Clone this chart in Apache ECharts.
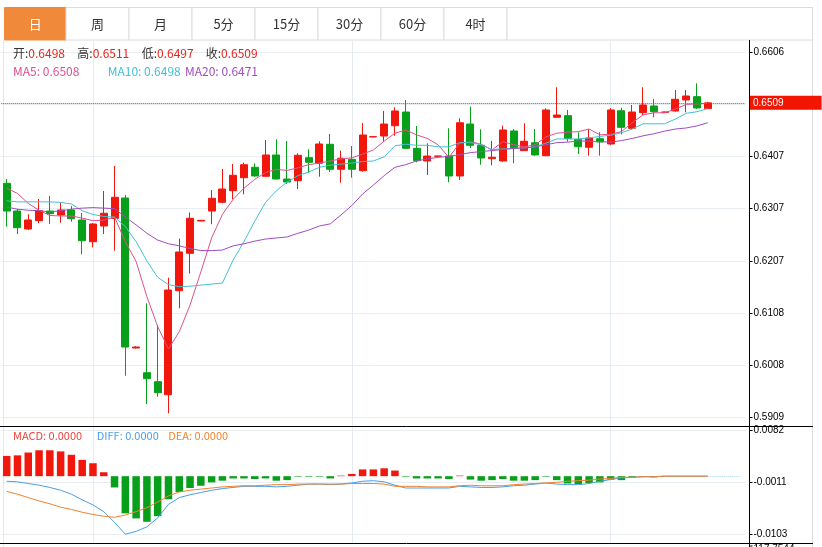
<!DOCTYPE html>
<html><head><meta charset="utf-8">
<script src="https://cdn.jsdelivr.net/npm/echarts@6/dist/echarts.min.js"></script>
<style>html,body{margin:0;padding:0;background:#fff;overflow:hidden}#c{width:822px;height:547px}</style>
</head><body><div id="c"></div>
<script>
// ---------- data ----------
const tabLabels = ['日','周','月','5分','15分','30分','60分','4时'];
const categories = ['1','2','3','4','5','6','7','8','9','10','11','12','13','14','15','16','17','18','19','20',
 '21','22','23','24','25','26','27','28','29','30','31','32','33','34','35','36','37','38','39','40',
 '41','42','43','44','45','46','47','48','49','50','51','52','53','54','55','56','57','58','59','60',
 '61','62','63','64','65','66'];
const emptySlots = [' ','  ','   '];
const opens = [0.63554,0.63025,0.62682,0.62840,0.63025,0.62949,0.63045,0.62854,0.62439,0.62739,
 0.62886,0.63274,0.60410,0.59938,0.59767,0.59518,0.61504,0.62218,0.62834,0.63025,
 0.63192,0.63413,0.63661,0.63860,0.63688,0.64095,0.63636,0.63604,0.64043,0.63936,
 0.64299,0.63822,0.64012,0.63795,0.64440,0.64457,0.64654,0.64915,0.64222,0.63980,
 0.64070,0.64075,0.63694,0.64686,0.64280,0.64024,0.63980,0.64553,0.64177,0.64329,
 0.64081,0.64814,0.64845,0.64394,0.64242,0.64406,0.64305,0.64940,0.64604,0.64902,
 0.65030,0.64910,0.64935,0.65145,0.65208,0.6498];
const closes = [0.63025,0.62707,0.62854,0.63031,0.62974,0.63045,0.62878,0.62458,0.62777,0.62982,
 0.63287,0.60429,0.60429,0.59824,0.59557,0.61517,0.62243,0.62886,0.62848,0.63268,
 0.63445,0.63707,0.63909,0.63694,0.64095,0.63636,0.63579,0.64089,0.63955,0.64305,
 0.63822,0.64032,0.63822,0.64476,0.64444,0.64686,0.64935,0.64222,0.63986,0.64075,
 0.64075,0.63694,0.64711,0.64280,0.64037,0.64051,0.64572,0.64234,0.64356,0.64095,
 0.64954,0.64858,0.64413,0.64253,0.64419,0.64343,0.64954,0.64623,0.64915,0.65049,
 0.64921,0.64915,0.65158,0.65221,0.64992,0.6509];
const lows = [0.62726,0.62586,0.62663,0.62791,0.62777,0.62802,0.62821,0.62199,0.62329,0.62586,
 0.62268,0.59881,0.60400,0.59341,0.59480,0.59163,0.61168,0.61832,0.62830,0.62772,
 0.63172,0.63249,0.63344,0.63680,0.63688,0.63631,0.63541,0.63445,0.63757,0.63680,
 0.63770,0.63566,0.63661,0.63776,0.64436,0.64348,0.64463,0.64209,0.63955,0.63713,
 0.64066,0.63573,0.63617,0.64228,0.63909,0.63898,0.63967,0.63936,0.64177,0.64081,
 0.64070,0.64814,0.64348,0.64114,0.64081,0.64081,0.64285,0.64490,0.64585,0.64858,
 0.64814,0.64905,0.64921,0.64910,0.64973,0.6497];
const highs = [0.63636,0.63064,0.62962,0.63254,0.63312,0.63184,0.63121,0.62987,0.62796,0.63407,
 0.63885,0.63331,0.60444,0.61263,0.60849,0.61752,0.62497,0.62997,0.62852,0.63426,
 0.63827,0.63923,0.63948,0.63936,0.64381,0.64394,0.64362,0.64127,0.64203,0.64356,
 0.64495,0.64177,0.64266,0.64705,0.64448,0.64935,0.65005,0.65145,0.64648,0.64318,
 0.64080,0.64604,0.64795,0.65017,0.64585,0.64362,0.64654,0.64591,0.64700,0.64591,
 0.64986,0.65387,0.64954,0.64528,0.64591,0.64528,0.64992,0.64998,0.65049,0.65387,
 0.65164,0.64920,0.65335,0.65335,0.65463,0.6511];
const ma5 = [0.6346,0.6336,0.6317,0.6304,0.6294,0.6293,0.6293,0.6289,0.6284,0.6285,
 0.6291,0.6244,0.6206,0.6139,0.6082,0.6039,0.6072,0.6123,0.6186,0.6251,
 0.6296,0.6325,0.6346,0.6363,0.6376,0.6382,0.6380,0.6385,0.6391,0.6394,
 0.6398,0.6402,0.6404,0.6411,0.6419,0.6436,0.6451,0.6457,0.6448,0.6441,
 0.6429,0.6405,0.6432,0.6435,0.6430,0.6419,0.6435,0.6429,0.6425,0.6429,
 0.6444,0.6451,0.6453,0.6454,0.6459,0.6448,0.6449,0.6454,0.6471,0.6486,
 0.6490,0.6490,0.6497,0.6506,0.6507,0.6508];
const ma10 = [0.6322,0.6320,0.6320,0.6320,0.6320,0.6319,0.6316,0.6303,0.6296,0.6292,
 0.6291,0.6273,0.6244,0.6207,0.6176,0.6162,0.6158,0.6159,0.6161,0.6163,
 0.6165,0.6209,0.6244,0.6283,0.6319,0.6341,0.6358,0.6370,0.6377,0.6386,
 0.6390,0.6392,0.6394,0.6397,0.6398,0.6406,0.6427,0.6430,0.6428,0.6428,
 0.6425,0.6425,0.6433,0.6433,0.6429,0.6420,0.6421,0.6422,0.6423,0.6425,
 0.6432,0.6440,0.6440,0.6440,0.6442,0.6445,0.6447,0.6452,0.6459,0.6469,
 0.6469,0.6469,0.6478,0.6489,0.6492,0.6498];
const ma20 = [0.6310,0.6306,0.6304,0.6303,0.6301,0.6303,0.6306,0.6308,0.6309,0.6308,
 0.6307,0.6291,0.6276,0.6260,0.6247,0.6240,0.6236,0.6231,0.6227,0.6227,
 0.6228,0.6236,0.6240,0.6245,0.6249,0.6251,0.6253,0.6260,0.6266,0.6274,
 0.6278,0.6295,0.6313,0.6335,0.6352,0.6370,0.6386,0.6391,0.6398,0.6402,
 0.6405,0.6407,0.6410,0.6414,0.6416,0.6418,0.6420,0.6422,0.6423,0.6425,
 0.6429,0.6433,0.6434,0.6436,0.6436,0.6435,0.6434,0.6437,0.6441,0.6446,
 0.6450,0.6455,0.6459,0.6461,0.6465,0.6471];
const macdHist = [0.0036,0.0037,0.0042,0.0046,0.0046,0.0044,0.0038,0.0029,0.0023,0.0007,
 -0.0020,-0.0066,-0.0075,-0.0081,-0.0071,-0.0041,-0.0028,-0.0021,-0.0017,-0.0011,
 -0.0008,-0.0004,-0.0004,-0.0005,-0.0004,-0.0008,-0.0007,-0.0001,-0.0001,-0.0001,
 -0.0004,0.0001,0.0004,0.0012,0.0012,0.0014,0.0010,-0.0001,-0.0004,-0.0004,
 -0.0004,-0.0005,0.0001,-0.0006,-0.0008,-0.0007,-0.0005,-0.0008,-0.0008,-0.0007,
 -0.0001,-0.0007,-0.0013,-0.0014,-0.0012,-0.0011,-0.0006,-0.0007,-0.0002,-0.0001,
 -0.0002,0,0,0,0,0];
const diff = [-0.0009,-0.0010,-0.0013,-0.0016,-0.0020,-0.0025,-0.0032,-0.0042,-0.0051,-0.0063,
 -0.0082,-0.0103,-0.0098,-0.0090,-0.0074,-0.0050,-0.0038,-0.0033,-0.0029,-0.0025,
 -0.0022,-0.0020,-0.0018,-0.0018,-0.0018,-0.0019,-0.0018,-0.0016,-0.0014,-0.0014,
 -0.0015,-0.0014,-0.0012,-0.0009,-0.0008,-0.0010,-0.0016,-0.0021,-0.0021,-0.0021,
 -0.0021,-0.0021,-0.0018,-0.0019,-0.0020,-0.0020,-0.0019,-0.0017,-0.0016,-0.0014,
 -0.0012,-0.0014,-0.0015,-0.0015,-0.0013,-0.0009,-0.0006,-0.0003,-0.0002,-0.0001,
 -0.0001,0,0,0,0,0];
const dea = [-0.0027,-0.0032,-0.0038,-0.0044,-0.0049,-0.0055,-0.0059,-0.0064,-0.0068,-0.0071,
 -0.0073,-0.0069,-0.0063,-0.0056,-0.0046,-0.0035,-0.0028,-0.0025,-0.0023,-0.0021,
 -0.0019,-0.0018,-0.0017,-0.0017,-0.0016,-0.0015,-0.0015,-0.0014,-0.0014,-0.0014,
 -0.0014,-0.0014,-0.0013,-0.0013,-0.0013,-0.0014,-0.0018,-0.0018,-0.0018,-0.0019,
 -0.0019,-0.0019,-0.0017,-0.0016,-0.0017,-0.0017,-0.0017,-0.0015,-0.0014,-0.0013,
 -0.0012,-0.0011,-0.0009,-0.0008,-0.0007,-0.0005,-0.0004,-0.0002,-0.0002,-0.0001,
 -0.0001,0,0,0,0,0];
const priceTicks = [0.5909,0.6008,0.6108,0.6207,0.6307,0.6407,0.6506,0.6606];
const priceLabelTicks = [0.5909,0.6008,0.6108,0.6207,0.6307,0.6407,0.6606]; // 0.6506 hidden under price tag
const macdTicks = [-0.0103,-0.0011,0.0082];
const gridMarks = [8, 32, 56];
const nextPanelLabel = '117.7544';

// ---------- layout / style ----------
const RED = '#f2170d', GREEN = '#08a01a';
const C_MA5 = '#e0508c', C_MA10 = '#45bfd4', C_MA20 = '#a04cc0';
const C_DIFF = '#4a9ee6', C_DEA = '#f0832f', C_MACD = '#e8433a';
const FONT = '"Noto Sans CJK SC", "Noto Sans", sans-serif';
const AXFONT = '"Liberation Sans", Arial, sans-serif';
const slots = categories.concat(emptySlots);
const band = 10.785;
const plotLeft = 1.3;
const plotW = slots.length * band;
const axisX = 749.5;
const yOffset = axisX - (plotLeft + plotW);
const last = categories.length - 1;
const f4 = v => Number(v).toFixed(4);

const candleData = categories.map((c, i) => [opens[i], closes[i], lows[i], highs[i]]);

const graphic = [];
// tab bar
const tabX = [4.5, 66, 129, 192, 255, 318, 381, 444, 507];
tabLabels.forEach((t, i) => {
  graphic.push({type:'rect', shape:{x:tabX[i], y:7.5, width:tabX[i+1]-tabX[i], height:32.5},
    style:{fill: i === 0 ? '#f08a3a' : '#fff', stroke: i === 0 ? '#f08a3a' : '#dcdcdc', lineWidth:1}, z:10});
  graphic.push({type:'text', x:(tabX[i]+tabX[i+1])/2, y:24, z:11,
    style:{text:t, fill: i === 0 ? '#fff' : '#333', font:'13px ' + FONT, align:'center', verticalAlign:'middle'}});
});
graphic.push({type:'rect', shape:{x:507, y:7.5, width:305.5, height:32.5}, style:{fill:'#fff', stroke:'#dcdcdc', lineWidth:1}, z:10});
// frame lines
graphic.push({type:'line', shape:{x1:3.5, y1:40, x2:3.5, y2:547}, style:{stroke:'#e3e8ee', lineWidth:1}, z:1});
graphic.push({type:'line', shape:{x1:812.5, y1:7.5, x2:812.5, y2:547}, style:{stroke:'#dcdcdc', lineWidth:1}, z:1});
graphic.push({type:'line', shape:{x1:0, y1:426.5, x2:813, y2:426.5}, style:{stroke:'#000', lineWidth:1}, z:20});
graphic.push({type:'line', shape:{x1:0, y1:543.5, x2:813, y2:543.5}, style:{stroke:'#000', lineWidth:1}, z:20});
graphic.push({type:'line', shape:{x1:axisX, y1:40, x2:axisX, y2:547}, style:{stroke:'#000', lineWidth:1}, z:20});
graphic.push({type:'line', shape:{x1:axisX, y1:546, x2:axisX+3, y2:546}, style:{stroke:'#000', lineWidth:1}, z:20});
graphic.push({type:'text', x:axisX+4, y:549, z:20,
  style:{text:nextPanelLabel, fill:'#000', font:'10px ' + AXFONT, verticalAlign:'middle'}});
// legends
const rl = {fill:'#333', font:'12px ' + FONT};
const rv = {fill:'#e8231b', font:'12px ' + FONT};
const ohlcLegend = [['开', opens[last], 13], ['高', highs[last], 77.3], ['低', lows[last], 141.7], ['收', closes[last], 205.7]];
ohlcLegend.forEach(([k, v, x]) => graphic.push({type:'text', x:x, y:53, z:15,
  style:{text:'{l|' + k + ':}{v|' + f4(v) + '}', rich:{l:rl, v:rv}, verticalAlign:'middle'}}));
const maLegend = [['MA5', ma5[last], C_MA5, 13], ['MA10', ma10[last], C_MA10, 107.7], ['MA20', ma20[last], C_MA20, 185]];
maLegend.forEach(([k, v, c, x]) => graphic.push({type:'text', x:x, y:71, z:15,
  style:{text:k + ': ' + f4(v), fill:c, font:'12px ' + FONT, verticalAlign:'middle'}}));
const macdLegend = [['MACD', macdHist[last], C_MACD, 13], ['DIFF', diff[last], C_DIFF, 96.7], ['DEA', dea[last], C_DEA, 168.3]];
macdLegend.forEach(([k, v, c, x]) => graphic.push({type:'text', x:x, y:436, z:15,
  style:{text:k + ': ' + f4(v), fill:c, font:'11px ' + FONT, verticalAlign:'middle'}}));

const vMarks = (z) => ({silent:true, symbol:['none','none'], z:z, animation:false,
  label:{show:false}, lineStyle:{color:'#e6ebf1', type:'solid', width:1},
  data: gridMarks.map(i => ({xAxis:i}))});

const baseX = (gi) => ({type:'category', gridIndex:gi, data:slots, boundaryGap:true,
  axisLine:{show:false}, axisTick:{show:false}, axisLabel:{show:false}, splitLine:{show:false}});

const option = {
  animation:false,
  backgroundColor:'#fff',
  grid:[
    {left:plotLeft, top:41, width:plotW, height:385.5},
    {left:plotLeft, top:427, width:plotW, height:116.5}
  ],
  xAxis:[baseX(0), baseX(1)],
  yAxis:[
    {type:'value', gridIndex:0, position:'right', offset:yOffset, min:0.589114, max:0.662708,
     axisLine:{show:false},
     axisTick:{show:true, length:3, customValues:priceTicks, lineStyle:{color:'#000'}},
     axisLabel:{customValues:priceLabelTicks, formatter:v => f4(v), color:'#000', fontSize:10, fontFamily:AXFONT, margin:4},
     splitLine:{show:true, lineStyle:{color:'#e9eef3', width:1}}},
    {type:'value', gridIndex:1, position:'right', offset:yOffset, min:-0.011954, max:0.008734,
     axisLine:{show:false},
     axisTick:{show:true, length:3, customValues:macdTicks, lineStyle:{color:'#000'}},
     axisLabel:{customValues:macdTicks, formatter:v => f4(v), color:'#000', fontSize:10, fontFamily:AXFONT, margin:4},
     splitLine:{show:true, lineStyle:{color:'#e9eef3', width:1}}}
  ],
  graphic: graphic,
  series:[
    {type:'candlestick', name:'K', xAxisIndex:0, yAxisIndex:0, data:candleData, barWidth:7.5,
     itemStyle:{color:RED, color0:GREEN, borderColor:RED, borderColor0:GREEN, borderWidth:1},
     markLine:{silent:true, symbol:['none','none'], animation:false, precision:4,
       lineStyle:{color:'#d4341f', type:'dotted', width:1},
       label:{show:true, position:'end', distance:yOffset + 0.5, formatter:() => f4(closes[last]),
         backgroundColor:'#f21500', color:'#fff', fontSize:10, fontFamily:AXFONT, padding:[2, 38, 2, 3]},
       data:[{yAxis:closes[last]}]}},
    {type:'line', name:'MA5', xAxisIndex:0, yAxisIndex:0, data:ma5, symbol:'none',
     lineStyle:{color:C_MA5, width:1}, markLine:vMarks(1)},
    {type:'line', name:'MA10', xAxisIndex:0, yAxisIndex:0, data:ma10, symbol:'none', lineStyle:{color:C_MA10, width:1}},
    {type:'line', name:'MA20', xAxisIndex:0, yAxisIndex:0, data:ma20, symbol:'none', lineStyle:{color:C_MA20, width:1}},
    {type:'bar', name:'MACD', xAxisIndex:1, yAxisIndex:1, barWidth:7.5,
     data:macdHist.map(v => ({value:v, itemStyle:{color: v >= 0 ? RED : GREEN}}))},
    {type:'line', name:'DIFF', xAxisIndex:1, yAxisIndex:1, data:diff, symbol:'none', lineStyle:{color:C_DIFF, width:1},
     markLine:{silent:true, symbol:['none','none'], animation:false, precision:4, label:{show:false},
       lineStyle:{color:'#a9d4ea', type:'dotted', width:1},
       data:[[{coord:[last, diff[last]]}, {coord:[slots.length - 1, diff[last]]}]]}},
    {type:'line', name:'DEA', xAxisIndex:1, yAxisIndex:1, data:dea, symbol:'none', lineStyle:{color:C_DEA, width:1},
     markLine:vMarks(1)}
  ]
};
const chart = echarts.init(document.getElementById('c'), null, {renderer:'canvas'});
chart.setOption(option);
</script>
</body></html>
